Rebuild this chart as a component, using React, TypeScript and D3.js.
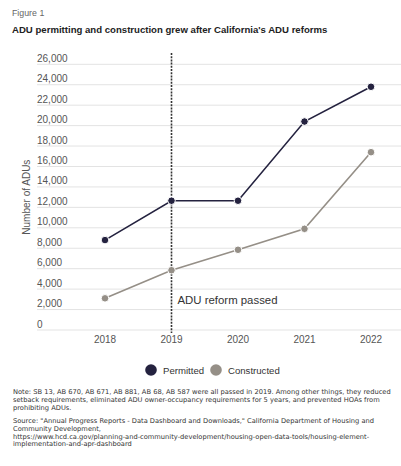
import * as d3 from "d3";
import { useEffect, useRef } from "react";

const years = [2018, 2019, 2020, 2021, 2022];
const permitted = [8800, 12650, 12650, 20400, 23800];
const constructed = [3100, 5850, 7850, 9900, 17400];
const yTicks = [0, 2000, 4000, 6000, 8000, 10000, 12000, 14000, 16000, 18000, 20000, 22000, 24000, 26000];
const reformYear = 2019;

const noteLines = [
  "Note: SB 13, AB 670, AB 671, AB 881, AB 68, AB 587 were all passed in 2019. Among other things, they reduced",
  "setback requirements, eliminated ADU owner-occupancy requirements for 5 years, and prevented HOAs from",
  "prohibiting ADUs.",
];
const sourceLines = [
  "Source: \"Annual Progress Reports - Data Dashboard and Downloads,\" California Department of Housing and",
  "Community Development,",
  "https://www.hcd.ca.gov/planning-and-community-development/housing-open-data-tools/housing-element-",
  "implementation-and-apr-dashboard",
];

const W = 401;
const H = 466;
const FONT = "'Liberation Sans', Arial, sans-serif";
const NOTE_FONT = "'DejaVu Sans', sans-serif";

const App = () => {
  const svgRef = useRef<SVGSVGElement | null>(null);

  useEffect(() => {
    if (!svgRef.current) return;
    const svg = d3.select(svgRef.current);
    svg.selectAll("*").remove();

    const x = d3.scalePoint<number>().domain(years).range([105, 371]);
    const y = d3.scaleLinear().domain([0, 26000]).range([330, 64.3]);

    // header
    svg.append("text").attr("x", 12).attr("y", 16).attr("font-size", 8.8).attr("fill", "#666")
      .attr("font-family", FONT).text("Figure 1");
    svg.append("text").attr("x", 12).attr("y", 33).attr("font-size", 9.6).attr("font-weight", "bold")
      .attr("fill", "#222").attr("font-family", FONT)
      .text("ADU permitting and construction grew after California's ADU reforms");

    // gridlines + y labels
    const grid = svg.append("g");
    grid.selectAll("line").data(yTicks).join("line")
      .attr("x1", 37).attr("x2", W).attr("y1", (d) => y(d)).attr("y2", (d) => y(d))
      .attr("stroke", "#e3e3e3").attr("stroke-width", 1);
    grid.selectAll("text").data(yTicks).join("text")
      .attr("x", 37).attr("y", (d) => y(d) - 2.5)
      .attr("font-size", 10).attr("fill", "#555").attr("font-family", FONT)
      .text((d) => d3.format(",")(d));

    // y title
    svg.append("text")
      .attr("transform", `translate(30,${(y(0) + y(26000)) / 2}) rotate(-90)`)
      .attr("text-anchor", "middle").attr("font-size", 10).attr("fill", "#555").attr("font-family", FONT)
      .text("Number of ADUs");

    // x labels
    svg.append("g").selectAll("text").data(years).join("text")
      .attr("x", (d) => x(d)!).attr("y", 343).attr("text-anchor", "middle")
      .attr("font-size", 10).attr("fill", "#555").attr("font-family", FONT)
      .text((d) => String(d));

    // reform line
    svg.append("line")
      .attr("x1", x(reformYear)!).attr("x2", x(reformYear)!).attr("y1", 53).attr("y2", 333)
      .attr("stroke", "#333").attr("stroke-width", 1.6).attr("stroke-dasharray", "2,1.2");
    svg.append("text").attr("x", x(reformYear)! + 6).attr("y", 304)
      .attr("font-size", 11.4).attr("fill", "#333").attr("font-family", FONT)
      .text("ADU reform passed");

    const series = [
      { name: "Permitted", values: permitted, color: "#24223f" },
      { name: "Constructed", values: constructed, color: "#958f87" },
    ];
    const line = d3.line<number>().x((_, i) => x(years[i])!).y((d) => y(d));
    series.forEach((s) => {
      const g = svg.append("g");
      g.append("path").attr("d", line(s.values)).attr("fill", "none")
        .attr("stroke", s.color).attr("stroke-width", 1.6);
      g.selectAll("circle").data(s.values).join("circle")
        .attr("cx", (_, i) => x(years[i])!).attr("cy", (d) => y(d)).attr("r", 3.8)
        .attr("fill", s.color).attr("stroke", "#fff").attr("stroke-width", 1);
    });

    // legend
    const leg = [
      { name: "Permitted", color: "#24223f", cx: 151 },
      { name: "Constructed", color: "#958f87", cx: 216 },
    ];
    const lg = svg.append("g");
    leg.forEach((l) => {
      lg.append("circle").attr("cx", l.cx).attr("cy", 370).attr("r", 5.8).attr("fill", l.color);
      lg.append("text").attr("x", l.cx + 12).attr("y", 373.5).attr("font-size", 9.6).attr("fill", "#333")
        .attr("font-family", FONT).text(l.name);
    });

    // notes
    const notes = svg.append("g").attr("font-family", NOTE_FONT).attr("font-size", 6.7).attr("fill", "#333");
    noteLines.forEach((t, i) => {
      notes.append("text").attr("x", 13).attr("y", 394 + i * 7.8).text(t);
    });
    sourceLines.forEach((t, i) => {
      notes.append("text").attr("x", 13).attr("y", 423 + i * 7.8).text(t);
    });
  }, []);

  return (
    <svg
      ref={svgRef}
      width={W}
      height={H}
      style={{ position: "absolute", left: 0, top: 0, background: "#fff" }}
    ></svg>
  );
};

export default App;
